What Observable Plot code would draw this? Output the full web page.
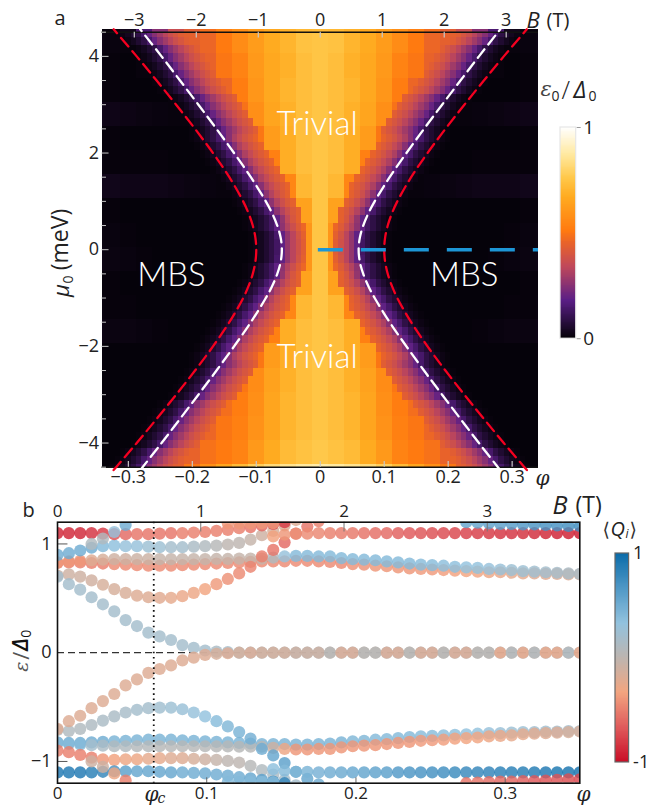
<!DOCTYPE html>
<html><head><meta charset="utf-8">
<script src="https://cdn.jsdelivr.net/npm/d3@7"></script>
<script src="https://cdn.jsdelivr.net/npm/@observablehq/plot@0.6"></script>
<style>
html,body{margin:0;padding:0;background:#fff;}
#root{position:relative;width:649px;height:806px;overflow:hidden;}
#root svg{position:absolute;overflow:visible;background:transparent;}
</style></head><body><div id="root"></div>
<script>
// ---------- Panel a: colour stops
const heatStops=[0,.18,.34,.45,.51,.67,.76,.87,1];
const heatColors=["#030106","#5a1e86","#c0485a","#e8622a","#ff7a10","#ffab20","#ffc84a","#ffe9a0","#ffffff"];
// coarse cells, rows from mu=4.55 down in 0.5 meV steps, columns at phi=0,0.025,...
const coarseRows=[
[.75,.74,.70,.67,.62,.57,.51,.46,.44,.40,.02,.01,.01,.012,.018],
[.75,.73,.69,.66,.61,.54,.50,.45,.30,.02,.01,.01,.005,.008,.012],
[.75,.73,.70,.66,.60,.52,.46,.40,.02,.01,.005,.005,.005,.008,.012],
[.75,.73,.69,.65,.58,.49,.30,.02,.01,.01,.012,.016,.02,.024,.028],
[.75,.73,.68,.62,.50,.30,.02,.01,.005,.005,.005,.005,.005,.008,.008],
[.75,.73,.68,.53,.30,.02,.01,.005,.005,.005,.008,.008,.008,.008,.012],
[.75,.71,.55,.30,.02,.01,.01,.012,.016,.02,.024,.024,.024,.028,.028],
[.75,.64,.30,.02,.01,.005,.005,.005,.005,.005,.005,.005,.005,.008,.008],
[.75,.60,.30,.02,.01,.005,.005,.005,.005,.005,.005,.005,.008,.012,.016],
[.75,.60,.30,.02,.01,.005,.005,.005,.005,.005,.005,.008,.012,.016,.02],
[.75,.64,.30,.02,.01,.005,.005,.005,.005,.005,.005,.005,.005,.008,.008],
[.75,.71,.55,.30,.02,.01,.005,.005,.005,.005,.005,.005,.008,.008,.012],
[.75,.73,.68,.53,.30,.02,.01,.005,.005,.005,.008,.012,.016,.016,.02],
[.75,.73,.68,.62,.50,.30,.02,.01,.005,.005,.005,.005,.005,.005,.008],
[.75,.73,.69,.64,.57,.50,.30,.02,.01,.005,.005,.005,.005,.005,.005],
[.75,.73,.70,.65,.58,.52,.48,.42,.02,.01,.005,.005,.005,.005,.005],
[.75,.73,.70,.65,.59,.53,.50,.46,.30,.02,.01,.005,.005,.005,.005],
[.76,.74,.72,.67,.61,.54,.51,.49,.45,.40,.02,.01,.005,.005,.005]];
const bottomStrip=[.88,.87,.85,.82,.78,.72,.65,.58,.50,.44,.02,.01,.005,.005,.005];
const topStrip=[.72,.71,.69,.66,.62,.58,.53,.48,.43,.36,.25,.15,.03,.01,.01];
// refined cells around the transition, one row per mu step of 1/6 meV
const fineStart=[3,3,3,4,4,5,6,6,7,8,9,10,11,12,12,13,14,15,16,18,19,20,21,22,23,25,26,27];
const fineValues=[
[.43,.38,.33,.27,.19,.13,.09,.06,.035,.02,.01],
[.44,.39,.33,.27,.19,.14,.09,.06,.035,.02,.01],
[.46,.42,.37,.32,.26,.19,.13,.09,.06,.035,.02,.01],
[.44,.40,.34,.27,.19,.13,.09,.06,.035,.02,.01],
[.44,.41,.37,.32,.26,.19,.14,.09,.06,.035,.02,.01],
[.44,.41,.37,.32,.26,.19,.14,.09,.06,.035,.02,.01],
[.44,.41,.37,.32,.26,.19,.14,.09,.06,.035,.02,.01],
[.45,.42,.39,.35,.31,.25,.19,.14,.09,.06,.035,.02,.01],
[.45,.42,.39,.35,.31,.25,.19,.14,.09,.06,.035,.02,.01],
[.45,.42,.39,.35,.31,.25,.19,.14,.09,.06,.035,.02,.01],
[.45,.42,.39,.35,.31,.25,.19,.14,.09,.06,.035,.02,.01],
[.45,.42,.39,.35,.31,.25,.19,.14,.09,.06,.035,.02,.01],
[.45,.42,.39,.35,.31,.25,.19,.14,.09,.06,.035,.02,.01],
[.45,.42,.39,.35,.31,.25,.19,.14,.09,.06,.035,.02,.01],
[.43,.40,.37,.33,.29,.25,.20,.14,.09,.06,.035,.02,.01],
[.43,.40,.37,.33,.29,.25,.20,.14,.09,.06,.035,.02,.01],
[.43,.40,.37,.33,.29,.25,.20,.14,.09,.06,.035,.02,.01],
[.43,.40,.37,.33,.29,.25,.20,.14,.09,.06,.035,.02,.01],
[.43,.40,.37,.33,.29,.25,.20,.14,.09,.06,.035,.02,.01],
[.43,.40,.37,.33,.29,.25,.20,.14,.09,.06,.035,.02,.01],
[.43,.40,.37,.33,.29,.25,.20,.14,.09,.06,.035,.02,.01],
[.43,.40,.37,.33,.29,.25,.20,.14,.09,.06,.035,.02,.01],
[.43,.40,.37,.33,.29,.25,.20,.14,.09,.06,.035,.02,.01],
[.43,.40,.37,.33,.29,.25,.20,.14,.09,.06,.035,.02,.01],
[.43,.40,.37,.33,.29,.25,.20,.14,.09,.06,.035,.02,.01],
[.43,.40,.37,.33,.29,.25,.20,.14,.09,.06,.035,.02,.01],
[.43,.40,.37,.33,.29,.25,.20,.14,.09,.06,.035,.02,.01],
[.43,.40,.37,.33,.29,.25,.20,.14,.09,.06,.035,.02,.01]];
// boundary curves
const curveMu=[0,.25,.5,.75,1,1.5,2,2.5,3,3.5,4,4.5,4.56];
const whitePhi=[.060,.0619,.0672,.0751,.0851,.1085,.1347,.1622,.1905,.2192,.2481,.2778,.2815];
const redPhi=[.100,.1014,.1055,.112,.1205,.1421,.1677,.1957,.2253,.2558,.2869,.3191,.323];
const phiTicksA=[-.3,-.2,-.1,0,.1,.2,.3];
const bTicksA=[-3,-2,-1,0,1,2,3];
const muTicks=[-4,-2,0,2,4];
const muMinor=[-4.5,-4,-3.5,-3,-2.5,-2,-1.5,-1,-.5,0,.5,1,1.5,2,2.5,3,3.5,4,4.5];
const phiPerTesla=.0969;

// ---------- Panel b
const chargeStops=[-1,-.66,-.33,0,.33,.66,1];
const chargeColors=["#c90d26","#e05c5c","#f2a580","#bdb5b0","#92c2de","#4f98c6","#0a6ba9"];
const phiStep=.35/46;
const zeroE=[.70,.63,.58,.51,.445,.38,.30,.245,.185,.15,.117,.07,.045,.02,.01,.005,0,0,0,0,0,0,0,0,0,0,0,0,0,0,0,0,0,0,0,0,0,0,0,0,0,0,0,0,0,0,0];
const zeroQ=[.2,.2,.2,.2,.2,.2,.2,.2,.2,.2,.2,.2,.2,.2,.15,.2,.15,.2,.15,.15,.15,.1,.1,.1,-.05,.2,.2,-.05,-.05,.2,.2,-.05,.2,.2,-.05,.2,.2,-.05,-.05,.3,-.1,.3,-.1,.3,.3,-.15,.3];
const humpE=[.71,.72,.70,.665,.625,.585,.55,.525,.51,.505,.505,.52,.55,.585,.63,.678,.73,.79,.885,.945,1.015,1.095,1.16,1.21];
const humpQ=[-.1,-.1,-.1,-.12,-.15,-.15,-.17,-.2,-.2,-.22,-.25,-.28,-.3,-.33,-.38,-.42,-.45,-.48,-.5,-.55,-.6,-.6,-.55,-.5];
const lowE=[.825,.83,.83,.825,.82,.815,.81,.805,.80,.80,.80,.805,.81,.815,.82,.825,.83,.835,.84,.84,.84,.845,.845,.84,.835,.825,.815,.81,.80,.795,.785,.775,.77,.765,.76,.755,.75,.745,.74,.74,.735,.73,.73,.725,.725,.72,.72];
const lowQ=[-.5,-.5,-.5,-.5,-.5,-.45,-.45,-.45,-.45,-.45,-.45,-.45,-.45,-.45,-.45,-.45,-.45,-.45,-.45,-.45,-.45,-.45,-.45,-.45,-.45,-.45,-.42,-.42,-.4,-.4,-.4,-.4,-.38,-.38,-.36,-.35,-.33,-.32,-.3,-.28,-.25,-.25,-.22,-.22,-.2,-.2,-.2];
const midE=[.83,.84,.845,.85,.855,.86,.86,.86,.86,.86,.86,.86,.86,.86,.862,.862,.865,.865,.865,.875,.885,.89,.89,.885,.885,.87,.86,.855,.85,.84,.83,.82,.81,.805,.80,.79,.785,.78,.77,.765,.76,.75,.745,.74,.735,.73,.725];
const midQ=[-.4,-.4,-.4,-.2,-.15,-.1,-.1,-.08,-.08,-.05,-.05,-.05,-.05,-.05,-.05,-.05,-.05,-.05,-.05,.1,.3,.4,.4,.4,.4,.4,.4,.4,.4,.4,.4,.4,.38,.38,.36,.35,.33,.32,.3,.28,.25,.25,.22,.2,.18,.15,.15];
const upE=[.90,.915,.94,.965,.98,.985,.98,.98,.975,.97,.97,.97,.975,.98,.985,.995,1.01,1.04,1.08,1.12,1.17,1.22];
const upQ=[.5,.5,.5,.5,.4,.35,.3,.3,.25,.25,.2,.2,.15,.1,.05,0,0,-.05,-.1,-.15,-.2,-.2];
const redE=[1.10,1.10,1.10,1.10,1.095,1.09,1.09,1.09,1.09,1.095,1.10,1.10,1.105,1.11,1.12,1.13,1.145,1.155,1.17,1.185,1.20];
const redQ=[-.9,-.9,-.9,-.85,-.8,-.7,-.6,-.55,-.55,-.55,-.55,-.5,-.5,-.5,-.5,-.5,-.5,-.55,-.6,-.75,-.8];
const riseE=[1.0,1.05,1.11,1.175,1.25];
const riseQ=[.1,.1,.3,.5,.5];
const capE=[1.19,1.19,1.19,1.19,1.19];
const capQ=[-.4,-.4,-.4,-.4,-.4];
const flatE=[1.07,1.085,1.095,1.095,1.10,1.10,1.10,1.10,1.10,1.10,1.10,1.10,1.10,1.10,1.10,1.10,1.10,1.10,1.10,1.10,1.10,1.10,1.10,1.10,1.10,1.10,1.10,1.10];
const flatQ=[-.35,-.4,-.42,-.45,-.47,-.5,-.52,-.54,-.56,-.58,-.6,-.65,-.68,-.7,-.72,-.74,-.76,-.78,-.8,-.82,-.84,-.85,-.86,-.88,-.9,-.92,-.93,-.95];
const topE=[1.20,1.195,1.19,1.185,1.185,1.18,1.18,1.175,1.17,1.165,1.165];
const topQ=[.55,.55,.58,.6,.62,.65,.68,.7,.7,.72,.75];
const bandStart=[0,0,0,0,0,0,3,15,19,36];
const bandE=[lowE,midE,upE,redE,humpE,zeroE,riseE,capE,flatE,topE];
const bandQ=[lowQ,midQ,upQ,redQ,humpQ,zeroQ,riseQ,capQ,flatQ,topQ];
const phiTicksB=[0,.1,.2,.3];
const bTicksB=[0,1,2,3];
const phiPerTeslaB=.096;
const epsTicks=[-1,0,1];
const phiCritical=.0645;

// ---------- build
const sans="'Open Sans',sans-serif";
const ink="#222";
const heatScale={type:"linear",domain:heatStops,range:heatColors,clamp:true};
const chargeScale={type:"linear",domain:chargeStops,range:chargeColors,clamp:true};
const phiMaxA=.3412, dC=.025, dF=.025/3;
const clampX=v=>Math.max(-phiMaxA,Math.min(phiMaxA,v));
const cells=[];
function addCoarse(row,y1,y2){row.forEach((v,k)=>{[1,-1].forEach(s=>{
  cells.push({x1:clampX(s*(k-.5)*dC),x2:clampX(s*(k+.5)*dC),y1,y2,v});});});}
coarseRows.forEach((row,r)=>addCoarse(row,4.55-r*.5,4.55-(r+1)*.5));
addCoarse(bottomStrip,-4.45,-4.5);
fineValues.forEach((vals,k)=>{vals.forEach((v,j)=>{const n=fineStart[k]+j;[1,-1].forEach(s=>{
  const x1=clampX(s*(n-.5)*dF),x2=clampX(s*(n+.5)*dF);
  cells.push({x1,x2,y1:.05+k/6,y2:Math.min(4.56,.05+(k+1)/6),v});
  cells.push({x1,x2,y1:.05-k/6,y2:Math.max(-4.5,.05-(k+1)/6),v});
});});});
addCoarse(topStrip,4.5,4.56);
const curves=[];
[["w",1,whitePhi],["w",-1,whitePhi],["r",1,redPhi],["r",-1,redPhi]].forEach(([c,s,arr])=>{
  const z=c+s;
  for(let i=curveMu.length-1;i>0;i--)curves.push({z,c,mu:-curveMu[i],phi:s*arr[i]});
  for(let i=0;i<curveMu.length;i++)curves.push({z,c,mu:curveMu[i],phi:s*arr[i]});
});
const minus=s=>String(s).replace("-","\u2212");

function pxText(str,x,y,ml,mt,o={}){
  return Plot.text([str],{text:d=>d,frameAnchor:"top-left",dx:x-ml,dy:y-mt,textAnchor:"start",lineAnchor:"middle",fontSize:19,fontFamily:sans,fill:ink,...o});
}
function rotText(str,x,y,ml,midY,o={}){
  return Plot.text([str],{text:d=>d,frameAnchor:"left",dx:x-ml,dy:y-midY,rotate:-90,textAnchor:"middle",fontSize:20,fontFamily:sans,fill:ink,...o});
}
const mlA=101.5,mtA=31.7,midA=249.2;
const serifI={fontFamily:"'DejaVu Serif',serif",fontStyle:"italic"};
const labelsA=[
 pxText("a",54,18,mlA,mtA,{fontSize:20}),
 pxText("B",526,20,mlA,mtA,{fontSize:22,fontStyle:"italic"}),
 pxText("(T)",546,20,mlA,mtA,{fontSize:20}),
 pxText("\u03c6",535,478,mlA,mtA,{fontSize:20,...serifI}),
 pxText("\u03b5",540,89,mlA,mtA,{fontSize:21,fill:"#444",...serifI}),
 pxText("0",551,96,mlA,mtA,{fontSize:14}),
 pxText("/",561,90,mlA,mtA,{fontSize:25,fontWeight:300}),
 pxText("\u0394",573,90,mlA,mtA,{fontSize:23,fontStyle:"italic"}),
 pxText("0",588,96,mlA,mtA,{fontSize:14}),
 rotText("\u03bc",61,290,mlA,midA,{fontSize:22,fontStyle:"italic"}),
 rotText("0",68,279,mlA,midA,{fontSize:14}),
 rotText("(meV)",60,239,mlA,midA,{fontSize:23})
];
const big={fill:"#fff",fontFamily:"Lato,'Open Sans',sans-serif",fontSize:33,fontWeight:300};
const panelA=Plot.plot({
  width:649,height:490,marginLeft:mlA,marginRight:111,marginTop:mtA,marginBottom:490-466.7,
  style:{background:"transparent",fontFamily:sans},
  x:{domain:[-phiMaxA,phiMaxA],axis:null},y:{domain:[-4.5,4.5],axis:null},
  color:heatScale,
  marks:[
    Plot.rect(cells,{x1:"x1",x2:"x2",y1:"y1",y2:"y2",fill:"v",shapeRendering:"crispEdges"}),
    Plot.ruleY([4.5,-4.5],{stroke:"#111",strokeWidth:1.4}),
    Plot.ruleY(muMinor,{x1:-phiMaxA,x2:d=>-phiMaxA+(Number.isInteger(d/2)?.011:.007),stroke:"#c8c8c8",strokeWidth:1}),
    Plot.ruleX(phiTicksA,{y1:-4.5,y2:-4.38,stroke:"#c8c8c8",strokeWidth:1.2}),
    Plot.ruleX(bTicksA,{x:d=>d*phiPerTesla,y1:4.5,y2:4.38,stroke:"#c8c8c8",strokeWidth:1.2}),
    Plot.line(curves,{x:"phi",y:"mu",z:"z",stroke:d=>d.c==="w"?"#ffffff":"#f40020",strokeWidth:2.3,strokeDasharray:"11,6",curve:"catmull-rom"}),
    Plot.ruleY([0],{x1:-.003,x2:phiMaxA,stroke:"#1d96d6",strokeWidth:3.5,strokeDasharray:"25,18"}),
    Plot.text(["Trivial"],{text:d=>d,x:()=>-.005,y:()=>2.59,...big}),
    Plot.text(["Trivial"],{text:d=>d,x:()=>-.005,y:()=>-2.23,...big}),
    Plot.text(["MBS"],{text:d=>d,x:()=>-.2325,y:()=>-.53,...big}),
    Plot.text(["MBS"],{text:d=>d,x:()=>.225,y:()=>-.53,...big}),
    Plot.axisX({anchor:"bottom",ticks:phiTicksA,tickSize:0,tickPadding:3,fontSize:18,label:null,tickFormat:d=>d===0?"0":minus(d.toFixed(1)),color:ink}),
    Plot.axisX({anchor:"top",ticks:bTicksA.map(b=>b*phiPerTesla),tickSize:0,tickPadding:6,fontSize:18,label:null,tickFormat:d=>minus(Math.round(d/phiPerTesla)),color:ink}),
    Plot.axisY({anchor:"left",ticks:muTicks,tickSize:0,tickPadding:3,fontSize:18,label:null,tickFormat:d=>minus(d),color:ink}),
    ...labelsA
  ]
});
panelA.style.left="0";panelA.style.top="0";

function colorBar(scale,lo,hi,left,top,barW,barH,ticks,fmt,fs,stroke,pad){
  const mL=2,mT=12,mB=12,mR=20,step=(hi-lo)/240;
  const stops=d3.range(lo,hi,step);
  const p=Plot.plot({
    width:mL+barW+mR,height:barH+mT+mB,marginLeft:mL,marginRight:mR,marginTop:mT,marginBottom:mB,
    style:{background:"transparent",fontFamily:sans},
    x:{domain:[0,1],axis:null},y:{domain:[lo,hi],axis:null},color:scale,
    marks:[
      Plot.rect(stops,{x1:()=>0,x2:()=>1,y1:d=>d,y2:d=>d+step,fill:d=>d+step/2,shapeRendering:"crispEdges"}),
      Plot.rect([0],{x1:()=>0,x2:()=>1,y1:()=>lo,y2:()=>hi,fill:"none",stroke:stroke,strokeWidth:1.2}),
      Plot.axisY({anchor:"right",ticks,tickSize:pad,tickPadding:pad?3:4,fontSize:fs,label:null,tickFormat:fmt,stroke:"#999",color:ink})
    ]
  });
  p.style.left=(left-mL)+"px";p.style.top=(top-mT)+"px";
  return p;
}
const barA=colorBar(heatScale,0,1,560,126.7,15.7,211.3,[0,1],d=>String(d),19,"#e6e6e6",4);

// panel b
const points=[];
bandE.forEach((eps,b)=>{eps.forEach((e,j)=>{points.push({phi:(bandStart[b]+j)*phiStep,e,q:bandQ[b][j]});});});
bandE.forEach((eps,b)=>{eps.forEach((e,j)=>{points.push({phi:(bandStart[b]+j)*phiStep,e:-e,q:-bandQ[b][j]});});});
const mlB=57,mtB=31.7,midB=162;
const panelB=Plot.plot({
  width:649,height:316,marginLeft:mlB,marginRight:69.7,marginTop:mtB,marginBottom:316-292.7,
  style:{background:"transparent",fontFamily:sans},
  x:{domain:[0,.35],axis:null},y:{domain:[-1.2,1.2],axis:null},color:chargeScale,
  marks:[
    Plot.ruleY([0],{stroke:"#333",strokeWidth:1.2,strokeDasharray:"7,4"}),
    Plot.dot(points,{x:"phi",y:"e",r:6.1,fill:"q",fillOpacity:.82,stroke:"none",clip:"frame"}),
    Plot.ruleX([phiCritical],{stroke:"#111",strokeWidth:1.8,strokeDasharray:"1.6,3.6"}),
    Plot.ruleX(phiTicksB.slice(1),{y1:-1.2,y2:-1.15,stroke:"#666",strokeWidth:1}),
    Plot.ruleX(bTicksB.slice(1),{x:d=>d*phiPerTeslaB,y1:1.2,y2:1.11,stroke:"#777",strokeWidth:1}),
    Plot.ruleY([-1,1],{x1:0,x2:.007,stroke:"#555",strokeWidth:1}),
    Plot.frame({stroke:"#111",strokeWidth:1.6}),
    Plot.axisX({anchor:"bottom",ticks:phiTicksB,tickSize:0,tickPadding:4,fontSize:17,label:null,tickFormat:d=>d===0?"0":d.toFixed(1),color:ink}),
    Plot.axisX({anchor:"top",ticks:bTicksB.map(b=>b*phiPerTeslaB),tickSize:0,tickPadding:5,fontSize:17,label:null,tickFormat:d=>String(Math.round(d/phiPerTeslaB)),color:ink}),
    Plot.axisY({anchor:"left",ticks:epsTicks,tickSize:0,tickPadding:6,fontSize:18,label:null,tickFormat:d=>minus(d),color:ink}),
    pxText("b",22,20,mlB,mtB,{fontSize:20}),
    pxText("B",552,15,mlB,mtB,{fontSize:25,fontStyle:"italic"}),
    pxText("(T)",575,15,mlB,mtB,{fontSize:23}),
    pxText("\u03c6",576,304,mlB,mtB,{fontSize:20,...serifI}),
    pxText("\u03c6",144,304,mlB,mtB,{fontSize:20,...serifI}),
    pxText("c",157,308,mlB,mtB,{fontSize:14,...serifI}),
    rotText("\u03b5",21,176,mlB,midB,{fontSize:19,fill:"#555",...serifI}),
    rotText("/",21,165,mlB,midB,{fontSize:22,fill:"#555"}),
    rotText("\u0394",20,154,mlB,midB,{fontSize:22,fill:"#111",fontStyle:"italic",fontWeight:600}),
    rotText("0",26,143,mlB,midB,{fontSize:14,fill:"#111"}),
    pxText("\u27e8",602,39,mlB,mtB,{fontSize:19,fontFamily:"'DejaVu Sans',sans-serif",fill:"#333"}),
    pxText("Q",610,39,mlB,mtB,{fontSize:20,fontStyle:"italic"}),
    pxText("i",625,44,mlB,mtB,{fontSize:12,fontStyle:"italic"}),
    pxText("\u27e9",629,39,mlB,mtB,{fontSize:19,fontFamily:"'DejaVu Sans',sans-serif",fill:"#333"})
  ]
});
panelB.style.left="0";panelB.style.top="490px";
const barB=colorBar(chargeScale,-1,1,614.7,552.7,13.6,209,[-1,1],d=>String(d),18,"#666",0);
document.getElementById("root").append(panelA,barA,panelB,barB);
</script></body></html>
